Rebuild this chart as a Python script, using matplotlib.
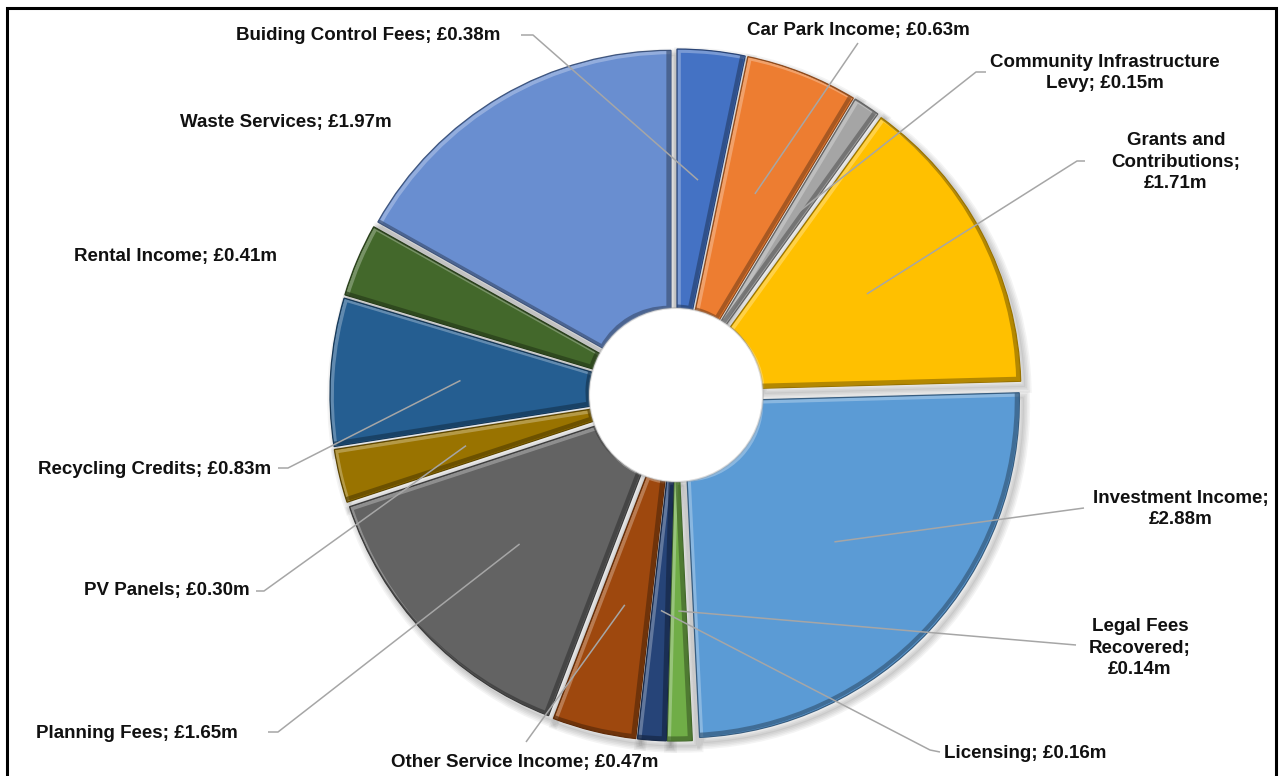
import numpy as np
import matplotlib
matplotlib.use("Agg")
import matplotlib.pyplot as plt
import matplotlib.colors as mcolors
from matplotlib import font_manager
from matplotlib.patches import Wedge, Circle, Rectangle
from matplotlib.transforms import Affine2D

W, H = 1279, 776

# Income sources, clockwise from 12 o'clock
categories = [
    "Buiding Control Fees", "Car Park Income", "Community Infrastructure\nLevy",
    "Grants and\nContributions", "Investment Income", "Legal Fees\nRecovered",
    "Licensing", "Other Service Income", "Planning Fees", "PV Panels",
    "Recycling Credits", "Rental Income", "Waste Services",
]
values = [0.38, 0.63, 0.15, 1.71, 2.88, 0.14, 0.16, 0.47, 1.65, 0.30, 0.83, 0.41, 1.97]
colors = [
    "#4472C4", "#ED7D31", "#A5A5A5", "#FFC000", "#5B9BD5", "#70AD47",
    "#264478", "#9E480E", "#636363", "#997300", "#255E91", "#43682B", "#698ED0",
]
# separator between name and amount ("; " on one line or ";\n" to wrap)
value_seps = ["; ", "; ", "; ", ";\n", ";\n", ";\n", "; ", "; ", "; ", "; ", "; ", "; ", "; "]

# label layout in pixel coordinates (y measured from the top): x, y, ha
label_pos = [
    (500, 35, "right"), (858, 30, "center"), (1105, 73, "center"),
    (1176, 162, "center"), (1181, 509, "center"), (1140, 648, "center"),
    (944, 753, "left"), (525, 762, "center"), (238, 733, "right"),
    (250, 591, "right"), (271, 469, "right"), (277, 257, "right"),
    (392, 123, "right"),
]
# leader lines: starting points near each label (None = no leader)
leader_start = [
    [(521, 35), (533, 35)], [(858, 43)], [(986, 72), (976, 72)],
    [(1085, 161), (1077, 161)], [(1084, 508)], [(1076, 645)],
    [(940, 752), (930, 750)], [(526, 742)], [(268, 732), (278, 732)],
    [(256, 591), (264, 591)], [(278, 468), (288, 468)], None, None,
]

names = {f.name for f in font_manager.fontManager.ttflist}
if "Liberation Sans Narrow" in names:
    family, fsize = "Liberation Sans Narrow", 16.0
else:
    family, fsize = "Liberation Sans", 13.5


def shade(c, f):
    r = np.array(mcolors.to_rgb(c))
    return tuple(r * f)


def tint(c, f):
    r = np.array(mcolors.to_rgb(c))
    return tuple(r + (1 - r) * f)


fig = plt.figure(figsize=(W / 100, H / 100), dpi=100)
ax = fig.add_axes([0, 0, 1, 1])

cx, cy = 676, H - 395
R, r_in, ex = 336, 76, 10
n = len(values)
common = dict(startangle=90, counterclock=False, radius=R, explode=[ex] * n)

# soft drop shadow
for k in range(5):
    ax.pie(values, center=(cx + 4, cy - 5), colors=["none"] * n,
           wedgeprops=dict(width=R - r_in, edgecolor=(0, 0, 0, 0.045),
                           linewidth=1 + 2.2 * k, zorder=1), **common)

wedges, _ = ax.pie(values, center=(cx, cy), colors=colors,
                   wedgeprops=dict(width=R - r_in, linewidth=0, zorder=2), **common)

# bevel: light band on top-left facing edges, dark band on bottom-right edges
for w, c in zip(wedges, colors):
    for off, col, a, lw in [((2.0, -2.0), tint(c, 0.4), 0.7, 2.6),
                            ((-2.5, 2.5), shade(c, 0.55), 0.65, 3.0)]:
        b = Wedge(w.center, w.r, w.theta1, w.theta2, width=w.width,
                  facecolor="none", edgecolor=col, linewidth=lw, alpha=a, zorder=3)
        b.set_transform(Affine2D().translate(*off) + ax.transData)
        ax.add_patch(b)
        b.set_clip_path(w)
    ol = Wedge(w.center, w.r, w.theta1, w.theta2, width=w.width,
               facecolor="none", edgecolor=shade(c, 0.6), linewidth=0.9, zorder=4)
    ax.add_patch(ol)

# doughnut hole
ax.add_patch(Circle((cx, cy), r_in + ex + 1, facecolor="white", edgecolor=(0.6, 0.6, 0.6, 0.35),
                    linewidth=1.5, zorder=5))

# labels and leader lines
total = sum(values)
cum = np.cumsum([0] + values[:-1])
for i, (name, v) in enumerate(zip(categories, values)):
    x, y, ha = label_pos[i]
    ax.text(x, H - y, f"{name}{value_seps[i]}£{v:.2f}m", ha=ha, va="center",
            multialignment="center", fontsize=fsize, fontweight="bold",
            family=family, color="#111111", linespacing=1.36, zorder=7)
    if leader_start[i] is None:
        continue
    mid = np.deg2rad(90 - (cum[i] + v / 2) / total * 360)
    rr = ex + (R + r_in) / 2
    end = (cx + rr * np.cos(mid), cy + rr * np.sin(mid))
    pts = [(px, H - py) for px, py in leader_start[i]] + [end]
    xs, ys = zip(*pts)
    ax.plot(xs, ys, color="#A6A6A6", linewidth=1.1, zorder=6, solid_capstyle="butt")

# chart frame
ax.add_patch(Rectangle((7, -10), 1269, H - 8 + 10, facecolor="none",
                       edgecolor="black", linewidth=2.2, zorder=8))

ax.set_xlim(0, W)
ax.set_ylim(0, H)
ax.set_aspect("equal")
ax.axis("off")
fig.savefig("out.png", dpi=100, facecolor="white")
